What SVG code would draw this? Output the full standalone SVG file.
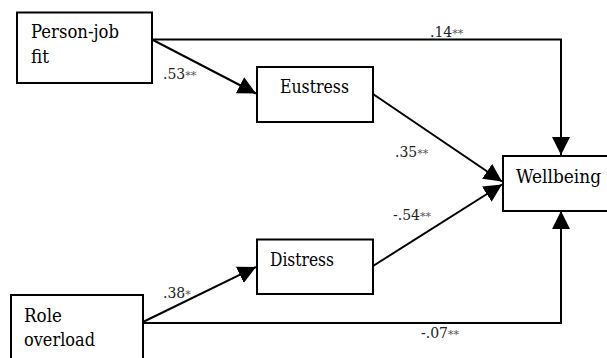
<svg xmlns="http://www.w3.org/2000/svg" width="607" height="358" viewBox="0 0 607 358">
<style>
text{font-family:'DejaVu Serif','Noto Serif',serif}
.box{fill:#fff;stroke:#000;stroke-width:2}
.lbl{font-size:18px;fill:#000}
.coef{font-size:14px;fill:#222}
.st{font-size:11px;fill:#555}
.edge{fill:none;stroke:#000;stroke-width:2}
</style>
<defs>
<marker id="ah" markerUnits="userSpaceOnUse" markerWidth="18" markerHeight="18" viewBox="0 0 16 16" refX="16" refY="8" orient="auto">
<path d="M0,0 L16,8 L0,16 Z" fill="#000"/>
</marker>
</defs>
<rect width="607" height="358" fill="#fff"/>
<g id="connectors">
<polyline class="edge" points="152,39.5 561,39.5 561,155" marker-end="url(#ah)"/>
<line class="edge" x1="152" y1="39.5" x2="256" y2="93.5" marker-end="url(#ah)"/>
<line class="edge" x1="373" y1="94" x2="502" y2="181.5" marker-end="url(#ah)"/>
<line class="edge" x1="373" y1="266" x2="502" y2="184.5" marker-end="url(#ah)"/>
<line class="edge" x1="143" y1="322" x2="256" y2="267" marker-end="url(#ah)"/>
<polyline class="edge" points="143,323 561,323 561,211" marker-end="url(#ah)"/>
<text class="coef" x="430" y="37">.14<tspan class="st">**</tspan></text>
<text class="coef" x="163" y="79">.53<tspan class="st">**</tspan></text>
<text class="coef" x="395" y="157">.35<tspan class="st">**</tspan></text>
<text class="coef" x="393" y="220">-.54<tspan class="st">**</tspan></text>
<text class="coef" x="163" y="298">.38<tspan class="st">*</tspan></text>
<text class="coef" x="421" y="338">-.07<tspan class="st">**</tspan></text>
</g>
<g id="person-job-fit">
<rect class="box" x="17" y="12.5" width="135" height="70.5"/>
<text class="lbl" x="31" y="38" textLength="88" lengthAdjust="spacingAndGlyphs">Person-job</text>
<text class="lbl" x="31" y="63" textLength="18" lengthAdjust="spacingAndGlyphs">fit</text>
</g>
<g id="eustress">
<rect class="box" x="257" y="67" width="116" height="55"/>
<text class="lbl" x="280" y="93" textLength="69" lengthAdjust="spacingAndGlyphs">Eustress</text>
</g>
<g id="distress">
<rect class="box" x="257" y="239.5" width="116" height="54.5"/>
<text class="lbl" x="270" y="266" textLength="64" lengthAdjust="spacingAndGlyphs">Distress</text>
</g>
<g id="wellbeing">
<rect class="box" x="503" y="156" width="110" height="55"/>
<text class="lbl" x="516" y="183" textLength="85" lengthAdjust="spacingAndGlyphs">Wellbeing</text>
</g>
<g id="role-overload">
<rect class="box" x="11" y="295" width="132" height="70"/>
<text class="lbl" x="24" y="322" textLength="38" lengthAdjust="spacingAndGlyphs">Role</text>
<text class="lbl" x="24" y="346" textLength="71" lengthAdjust="spacingAndGlyphs">overload</text>
</g>
</svg>
